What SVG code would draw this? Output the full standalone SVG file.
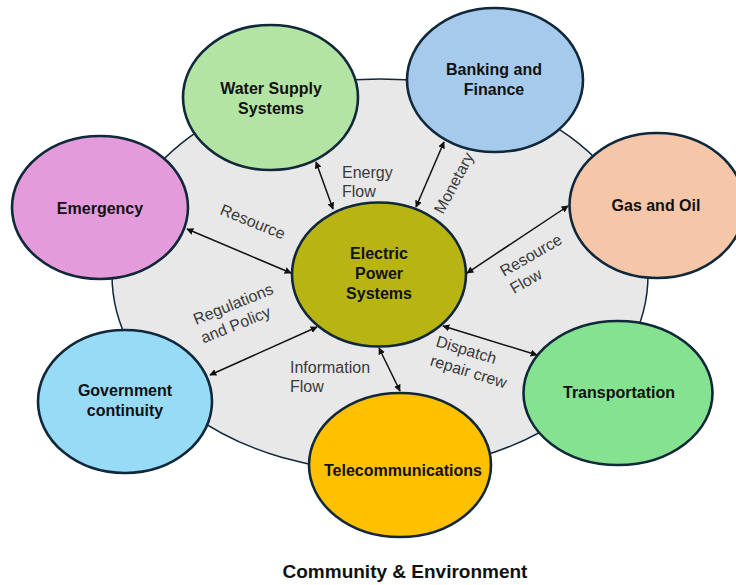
<svg xmlns="http://www.w3.org/2000/svg" width="736" height="585" viewBox="0 0 736 585">
<defs>
<style>
.node{stroke:#10283a;stroke-width:2.6}
.nt{font-family:"Liberation Sans",Arial,sans-serif;font-weight:bold;font-size:16px;fill:#111;text-anchor:middle}
.lb{font-family:"Liberation Sans",Arial,sans-serif;font-size:16px;fill:#3a3a3a}
.cn{stroke:#111;stroke-width:1.5;fill:none;marker-start:url(#ah);marker-end:url(#ah)}
</style>
<marker id="ah" viewBox="0 0 10 10" refX="9" refY="5" markerWidth="7" markerHeight="7" markerUnits="userSpaceOnUse" orient="auto-start-reverse">
<path d="M0,0 L10,5 L0,10 z" fill="#111"/>
</marker>
</defs>
<rect width="736" height="585" fill="#ffffff"/>
<g id="community">
<ellipse cx="380" cy="275" rx="268" ry="196" fill="#e8e8e8" stroke="#10283a" stroke-width="1.5"/>
</g>
<g id="water">
<ellipse class="node" cx="270.5" cy="97.5" rx="87.5" ry="72.5" fill="#b4e4a4"/>
<text class="nt" x="271" y="94">Water Supply</text>
<text class="nt" x="271" y="114">Systems</text>
</g>
<g id="banking">
<ellipse class="node" cx="495" cy="80" rx="88" ry="72" fill="#a6caec"/>
<text class="nt" x="494" y="75">Banking and</text>
<text class="nt" x="494" y="95">Finance</text>
</g>
<g id="emergency">
<ellipse class="node" cx="100" cy="207.5" rx="88" ry="71.5" fill="#e49bdb"/>
<text class="nt" x="100" y="214">Emergency</text>
</g>
<g id="gas">
<ellipse class="node" cx="657" cy="205.5" rx="87.5" ry="72.5" fill="#f6c6a9"/>
<text class="nt" x="656" y="211">Gas and Oil</text>
</g>
<g id="government">
<ellipse class="node" cx="125" cy="401.5" rx="87" ry="71.5" fill="#97dbf6"/>
<text class="nt" x="125" y="396">Government</text>
<text class="nt" x="125" y="416">continuity</text>
</g>
<g id="transportation">
<ellipse class="node" cx="618" cy="393" rx="94.5" ry="72" fill="#84e290"/>
<text class="nt" x="619" y="398">Transportation</text>
</g>
<g id="telecom">
<ellipse class="node" cx="400" cy="465" rx="91" ry="72" fill="#ffc000"/>
<text class="nt" x="403" y="476">Telecommunications</text>
</g>
<g id="electric">
<ellipse class="node" cx="379" cy="274.5" rx="87" ry="72" fill="#b7b413"/>
<text class="nt" x="379" y="259">Electric</text>
<text class="nt" x="379" y="279">Power</text>
<text class="nt" x="379" y="299">Systems</text>
</g>
<g id="connectors">
<line class="cn" x1="316" y1="162" x2="333" y2="209"/>
<line class="cn" x1="444" y1="142" x2="416" y2="207"/>
<line class="cn" x1="187" y1="229" x2="291" y2="273"/>
<line class="cn" x1="210" y1="375" x2="317" y2="327"/>
<line class="cn" x1="379" y1="348" x2="400" y2="391"/>
<line class="cn" x1="467" y1="273" x2="568" y2="206"/>
<line class="cn" x1="443" y1="326" x2="537" y2="355"/>
</g>
<g id="labels">
<text class="lb" x="342" y="178">Energy</text>
<text class="lb" x="342" y="197">Flow</text>
<text class="lb" transform="translate(443,215) rotate(-62)">Monetary</text>
<text class="lb" transform="translate(219,214) rotate(22)">Resource</text>
<g transform="translate(196,325) rotate(-22)">
<text class="lb" x="0" y="0">Regulations</text>
<text class="lb" x="0" y="20">and Policy</text>
</g>
<text class="lb" x="290" y="373">Information</text>
<text class="lb" x="290" y="392">Flow</text>
<g transform="translate(504,277) rotate(-30)">
<text class="lb" x="0" y="0">Resource</text>
<text class="lb" x="0" y="20">Flow</text>
</g>
<g transform="translate(435,346) rotate(17)">
<text class="lb" x="0" y="0">Dispatch</text>
<text class="lb" x="0" y="20">repair crew</text>
</g>
</g>
<g id="title">
<text x="405" y="578" font-family="Liberation Sans, Arial, sans-serif" font-weight="bold" font-size="19" fill="#111" text-anchor="middle">Community &amp; Environment</text>
</g>
</svg>
